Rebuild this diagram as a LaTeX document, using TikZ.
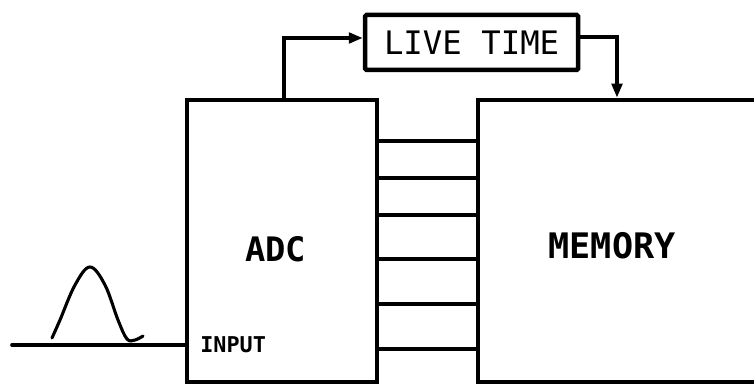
\documentclass[tikz,border=0pt]{standalone}
\usepackage{fontspec}
\usepackage{tikz}
\usetikzlibrary{arrows.meta, positioning, calc}
\setmonofont{DejaVu Sans Mono}

\begin{document}
\begin{tikzpicture}[
    blk/.style={draw,line width=3.2pt,inner sep=0pt},
    wire/.style={line width=2.6pt,line cap=round},
    feed/.style={wire,-{Triangle[length=0.35cm,width=0.26cm]}},
    lbl/.style={font=\ttfamily\bfseries\fontsize{24}{24}\selectfont},
    pulse/.style={line width=2.2pt,line cap=round}
  ]
    \useasboundingbox (0,0) rectangle (18.85,9.625);
    \clip (0,0) rectangle (18.85,9.625);
    % blocks
    \node[blk,minimum width=4.75cm,minimum height=7.05cm] (adc) at (7.05,3.6) {};
    \node[blk,minimum width=7.6cm,minimum height=7.05cm] (mem) at (15.75,3.6) {};
    \node[blk,minimum width=5.325cm,minimum height=1.375cm,rounded corners=1pt,
          font=\ttfamily\fontsize{23}{23}\selectfont] (live) at (11.79,8.5625) {LIVE TIME};
    \node[lbl] (adclbl) at (6.89,3.39) {ADC};
    \node[lbl,font=\ttfamily\bfseries\fontsize{25}{25}\selectfont] (memlbl) at (15.3,3.475) {MEMORY};
    \node[font=\ttfamily\bfseries\fontsize{15.5}{15.5}\selectfont,anchor=west,inner sep=0pt] (inlbl) at (5.0,1.0) {INPUT};
    % bus lines
    \foreach \y in {6.075,5.15,4.225,3.125,2.0,0.875}
      \draw[wire] ($(adc.south east)+(0,\y)$) coordinate (b) -- (b -| mem.west);
    % live time loop
    \coordinate (up) at (7.1,8.675);
    \coordinate (dn) at (15.425,8.7);
    \draw[feed] (adc.north -| up) -- (up) -- (live.west |- up);
    \draw[feed] (live.east |- dn) -- (dn) -- (mem.north -| dn);
    % input signal
    \coordinate (in) at (0.3,1.0);
    \draw[wire] (in) -- (in -| adc.west);
    \draw[pulse] plot[smooth,tension=0.6] coordinates {(1.3,1.175) (1.5,1.625) (1.875,2.5)
      (2.25,2.95) (2.625,2.5) (2.95,1.625) (3.175,1.15) (3.375,1.125) (3.575,1.225)};
  \end{tikzpicture}
\end{document}
